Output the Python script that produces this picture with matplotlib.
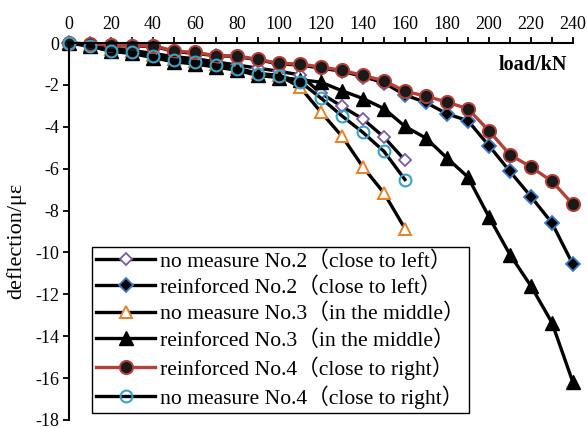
import matplotlib
matplotlib.use("Agg")
import matplotlib.pyplot as plt

plt.rcParams['font.family'] = ['Liberation Serif', 'Noto Sans CJK SC']
plt.rcParams['axes.unicode_minus'] = False

# load steps (kN)
load = [0, 10, 20, 30, 40, 50, 60, 70, 80, 90, 100, 110, 120, 130, 140, 150,
        160, 170, 180, 190, 200, 210, 220, 230, 240]

# deflection readings
no_measure_2 = [0, -0.1, -0.25, -0.35, -0.5, -0.65, -0.75, -0.9, -1.05, -1.2,
                -1.35, -1.52, -2.4, -3.03, -3.63, -4.49, -5.6]
reinforced_2 = [0, -0.05, -0.1, -0.15, -0.15, -0.4, -0.5, -0.6, -0.65, -0.8,
                -1.0, -1.05, -1.2, -1.35, -1.6, -1.9, -2.48, -2.84, -3.38,
                -3.71, -4.9, -6.13, -7.33, -8.59, -10.57]
no_measure_3 = [0, -0.1, -0.3, -0.4, -0.55, -0.75, -0.85, -1.0, -1.2, -1.45,
                -1.55, -2.1, -3.3, -4.45, -5.92, -7.16, -8.86]
reinforced_3 = [0, -0.15, -0.4, -0.5, -0.7, -0.9, -1.0, -1.15, -1.3, -1.55,
                -1.65, -1.75, -1.87, -2.28, -2.65, -3.13, -3.98, -4.54, -5.49,
                -6.4, -8.3, -10.1, -11.6, -13.35, -16.2]
reinforced_4 = [0, -0.05, -0.1, -0.13, -0.12, -0.38, -0.45, -0.6, -0.62, -0.78,
                -0.97, -1.0, -1.15, -1.3, -1.55, -1.8, -2.3, -2.54, -2.82,
                -3.14, -4.19, -5.33, -5.92, -6.6, -7.7]
no_measure_4 = [0, -0.14, -0.37, -0.44, -0.62, -0.81, -0.89, -1.05, -1.24,
                -1.48, -1.56, -1.84, -2.63, -3.48, -4.27, -5.17, -6.52]

labels = ['no measure No.2（close to left）',
          'reinforced No.2（close to left）',
          'no measure No.3（in the middle）',
          'reinforced No.3（in the middle）',
          'reinforced No.4（close to right）',
          'no measure No.4（close to right）']

fig = plt.figure(figsize=(5.87, 4.28), dpi=100)
ax = fig.add_axes([0.1175, 0.0187, 0.8585, 0.8808])

lw = 2.4
ax.plot(load[:len(no_measure_2)], no_measure_2, color='black', lw=lw,
        marker='D', ms=6.5, mfc='white', mec='#7B5BA6', mew=1.3,
        clip_on=False, label=labels[0])
ax.plot(load, reinforced_2, color='black', lw=lw,
        marker='D', ms=7, mfc='black', mec='#3D7CC9', mew=1.3,
        clip_on=False, label=labels[1])
ax.plot(load[:len(no_measure_3)], no_measure_3, color='black', lw=lw,
        marker='^', ms=8.5, mfc='white', mec='#E5822B', mew=1.4,
        clip_on=False, label=labels[2])
ax.plot(load, reinforced_3, color='black', lw=lw,
        marker='^', ms=9.5, mfc='black', mec='black', mew=1,
        clip_on=False, label=labels[3])
ax.plot(load, reinforced_4, color='#B5403A', lw=lw,
        marker='o', ms=9.5, mfc='#1a1a1a', mec='#B5403A', mew=1.4,
        clip_on=False, label=labels[4])
ax.plot(load[:len(no_measure_4)], no_measure_4, color='black', lw=lw,
        marker='o', ms=8.5, mfc='none', mec='#3AA2C4', mew=1.5,
        clip_on=False, label=labels[5])

ax.set_xlim(0, 240)
ax.set_ylim(-18, 0)

# x axis on top
ax.xaxis.tick_top()
ax.set_xticks(range(0, 241, 10))
ax.set_xticklabels([str(v) if v % 20 == 0 else '' for v in range(0, 241, 10)])
ax.set_yticks(range(-18, 1, 2))
ax.set_yticklabels([str(v) for v in range(-18, 1, 2)])
ax.tick_params(axis='both', direction='out', length=4, width=1.3,
               labelsize=13, pad=3, colors='black')

ax.spines['right'].set_visible(False)
ax.spines['bottom'].set_visible(False)
ax.spines['top'].set_linewidth(1.5)
ax.spines['left'].set_linewidth(1.5)

ax.text(0.988, 0.942, 'load/kN', transform=ax.transAxes, ha='right',
        va='center', fontsize=14.5, fontweight='bold')
fig.text(0.028, 0.437, 'deflection/με', rotation=90, ha='center',
         va='center', fontsize=16)

leg = ax.legend(loc='lower left', bbox_to_anchor=(0.0456, 0.018),
                borderaxespad=0, fontsize=15.6, frameon=True, fancybox=False,
                edgecolor='black', handlelength=2.72, handletextpad=0.24,
                labelspacing=0.26, borderpad=0.2, numpoints=1)
leg.get_frame().set_linewidth(1.0)
leg.get_frame().set_alpha(1)

fig.savefig('out.png', dpi=100)
